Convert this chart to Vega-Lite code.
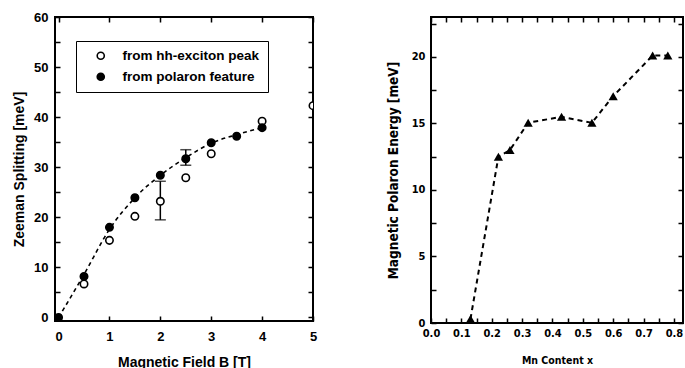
{
  "$schema": "https://vega.github.io/schema/vega-lite/v6.json",
  "padding": {"left": 11, "top": 10, "right": 0, "bottom": 0},
  "spacing": 67,
  "datasets": {
    "circles": [
      {"B": 0.5, "E": 6.7, "series": "from hh-exciton peak"},
      {"B": 1.0, "E": 15.4, "series": "from hh-exciton peak"},
      {"B": 1.5, "E": 20.2, "series": "from hh-exciton peak"},
      {"B": 2.0, "E": 23.2, "series": "from hh-exciton peak"},
      {"B": 2.5, "E": 27.9, "series": "from hh-exciton peak"},
      {"B": 3.0, "E": 32.7, "series": "from hh-exciton peak"},
      {"B": 4.0, "E": 39.2, "series": "from hh-exciton peak"},
      {"B": 5.0, "E": 42.3, "series": "from hh-exciton peak"},
      {"B": 0.0, "E": 0.0, "series": "from polaron feature"},
      {"B": 0.5, "E": 8.2, "series": "from polaron feature"},
      {"B": 1.0, "E": 18.0, "series": "from polaron feature"},
      {"B": 1.5, "E": 23.9, "series": "from polaron feature"},
      {"B": 2.0, "E": 28.4, "series": "from polaron feature"},
      {"B": 2.5, "E": 31.7, "series": "from polaron feature"},
      {"B": 3.0, "E": 34.9, "series": "from polaron feature"},
      {"B": 3.5, "E": 36.2, "series": "from polaron feature"},
      {"B": 4.0, "E": 37.9, "series": "from polaron feature"}
    ],
    "fit": [
      {"B": 0.0, "E": 0.0},
      {"B": 0.5, "E": 8.6},
      {"B": 1.0, "E": 17.6},
      {"B": 1.5, "E": 23.9},
      {"B": 2.0, "E": 28.4},
      {"B": 2.5, "E": 31.9},
      {"B": 3.0, "E": 34.8},
      {"B": 3.5, "E": 36.5},
      {"B": 4.0, "E": 37.9}
    ],
    "errors": [
      {"B": 2.0, "lo": 19.5, "hi": 27.2},
      {"B": 2.5, "lo": 30.4, "hi": 33.5}
    ],
    "polaron": [
      {"x": 0.13, "Ep": 0.3},
      {"x": 0.222, "Ep": 12.5},
      {"x": 0.26, "Ep": 13.0},
      {"x": 0.32, "Ep": 15.05},
      {"x": 0.43, "Ep": 15.5},
      {"x": 0.53, "Ep": 15.05},
      {"x": 0.60, "Ep": 17.05},
      {"x": 0.73, "Ep": 20.1},
      {"x": 0.78, "Ep": 20.1}
    ]
  },
  "hconcat": [
    {
      "width": 258,
      "height": 304,
      "resolve": {"axis": {"x": "independent", "y": "independent"}},
      "layer": [
        {
          "data": {"name": "fit"},
          "mark": {"type": "line", "color": "black", "strokeWidth": 1.6, "strokeDash": [4, 3.5], "interpolate": "monotone"},
          "encoding": {
            "x": {"field": "B", "type": "quantitative", "scale": {"domain": [-0.07, 5], "nice": false, "zero": false},
              "axis": {"orient": "bottom", "title": "Magnetic Field B [T]", "values": [0, 0.5, 1, 1.5, 2, 2.5, 3, 3.5, 4, 4.5, 5],
                "format": "d", "labelExpr": "datum.value % 1 === 0 ? datum.label : ''", "labelFlush": false, "labelOverlap": false,
                "grid": true, "gridDash": [5, 294, 5, 2000],
                "labelFont": "Liberation Sans", "labelFontSize": 13, "titleFont": "Liberation Sans", "titleFontSize": 14,
                "labelPadding": 9, "titlePadding": 12}},
            "y": {"field": "E", "type": "quantitative", "scale": {"domain": [-0.7, 60], "nice": false, "zero": false},
              "axis": {"orient": "left", "title": "Zeeman Splitting [meV]", "values": [0, 5, 10, 15, 20, 25, 30, 35, 40, 45, 50, 55, 60],
                "labelExpr": "datum.value % 10 === 0 ? datum.label : ''", "labelFlush": false, "labelOverlap": false,
                "grid": true, "gridDash": [5, 248, 5, 2000],
                "labelFont": "Liberation Sans", "labelFontSize": 13, "titleFont": "Liberation Sans", "titleFontSize": 14,
                "labelPadding": 7, "titlePadding": 7}}
          }
        },
        {
          "mark": {"type": "tick", "color": "black", "orient": "horizontal", "size": 187, "thickness": 5, "opacity": 1},
          "encoding": {
            "x": {"datum": 2.274, "type": "quantitative", "axis": null},
            "y": {"datum": 44.67, "type": "quantitative", "axis": null}
          }
        },
        {
          "mark": {"type": "tick", "color": "black", "orient": "vertical", "size": 50, "thickness": 4, "opacity": 1},
          "encoding": {
            "x": {"datum": 4.07, "type": "quantitative", "axis": null},
            "y": {"datum": 49.16, "type": "quantitative", "axis": null}
          }
        },
        {
          "data": {"name": "errors"},
          "mark": {"type": "rule", "color": "black", "strokeWidth": 1.5},
          "encoding": {
            "x": {"field": "B", "type": "quantitative", "axis": null},
            "y": {"field": "lo", "type": "quantitative", "axis": null},
            "y2": {"field": "hi"}
          }
        },
        {
          "data": {"name": "errors"},
          "mark": {"type": "tick", "color": "black", "orient": "horizontal", "size": 11, "thickness": 1.5},
          "encoding": {
            "x": {"field": "B", "type": "quantitative", "axis": null},
            "y": {"field": "lo", "type": "quantitative", "axis": null}
          }
        },
        {
          "data": {"name": "errors"},
          "mark": {"type": "tick", "color": "black", "orient": "horizontal", "size": 11, "thickness": 1.5},
          "encoding": {
            "x": {"field": "B", "type": "quantitative", "axis": null},
            "y": {"field": "hi", "type": "quantitative", "axis": null}
          }
        },
        {
          "data": {"name": "circles"},
          "mark": {"type": "point", "shape": "circle", "filled": true, "stroke": "black", "strokeWidth": 1.6, "size": 55, "opacity": 1, "clip": true},
          "encoding": {
            "x": {"field": "B", "type": "quantitative", "axis": null},
            "y": {"field": "E", "type": "quantitative", "axis": null},
            "fill": {"field": "series", "type": "nominal",
              "scale": {"domain": ["from hh-exciton peak", "from polaron feature"], "range": ["white", "black"]},
              "legend": {"orient": "none", "legendX": 21, "legendY": 24, "title": null, "fillColor": "white", "strokeColor": "black",
                "padding": 8, "symbolOffset": 10, "labelOffset": 15, "rowPadding": 6, "symbolType": "circle", "symbolSize": 50,
                "symbolStrokeColor": "black", "symbolStrokeWidth": 1.6, "labelColor": "black",
                "labelFont": "Liberation Sans", "labelFontSize": 13.5, "labelFontWeight": "bold", "zindex": 1}}
          }
        },
        {
          "mark": {"type": "text", "text": "( a )", "font": "Liberation Sans", "fontSize": 15, "fontWeight": "bold", "color": "black"},
          "encoding": {"x": {"datum": 4.37, "type": "quantitative", "axis": null}, "y": {"datum": 22.7, "type": "quantitative", "axis": null}}
        },
        {
          "mark": {"type": "text", "text": "Sample 05164B", "font": "Liberation Sans", "fontSize": 13.5, "fontWeight": "bold", "color": "black"},
          "encoding": {"x": {"datum": 3.67, "type": "quantitative", "axis": null}, "y": {"datum": 5.2, "type": "quantitative", "axis": null}}
        }
      ]
    },
    {
      "width": 252,
      "height": 306,
      "resolve": {"axis": {"x": "independent", "y": "independent"}},
      "layer": [
        {
          "data": {"name": "polaron"},
          "mark": {"type": "line", "color": "black", "strokeWidth": 2, "strokeDash": [5, 4]},
          "encoding": {
            "x": {"field": "x", "type": "quantitative", "scale": {"domain": [0, 0.83], "nice": false, "zero": false},
              "axis": {"orient": "bottom", "title": "Mn Content x",
                "values": [0, 0.05, 0.1, 0.15, 0.2, 0.25, 0.3, 0.35, 0.4, 0.45, 0.5, 0.55, 0.6, 0.65, 0.7, 0.75, 0.8],
                "labelExpr": "round(datum.value * 100) % 10 === 0 ? format(datum.value, '.1f') : ''", "labelFlush": false, "labelOverlap": false,
                "grid": true, "gridDash": [5, 296, 5, 2000],
                "labelFont": "DejaVu Sans Condensed, Liberation Sans", "labelFontSize": 11, "titleFont": "DejaVu Sans Condensed, Liberation Sans", "titleFontSize": 10.5,
                "labelPadding": 4, "titlePadding": 17}},
            "y": {"field": "Ep", "type": "quantitative", "scale": {"domain": [0, 23], "nice": false, "zero": false},
              "axis": {"orient": "left", "title": "Magnetic Polaron Energy [meV]",
                "values": [0, 2.5, 5, 7.5, 10, 12.5, 15, 17.5, 20, 22.5],
                "labelExpr": "datum.value % 5 === 0 ? datum.label : ''", "labelFlush": false, "labelOverlap": false,
                "grid": true, "gridDash": [5, 242, 5, 2000],
                "labelFont": "DejaVu Sans Condensed, Liberation Sans", "labelFontSize": 11, "titleFont": "DejaVu Sans Condensed, Liberation Sans", "titleFontSize": 13.5,
                "labelPadding": 6, "titlePadding": 11}}
          }
        },
        {
          "data": {"name": "polaron"},
          "mark": {"type": "point", "shape": "triangle-up", "filled": true, "color": "black", "size": 85, "opacity": 1},
          "encoding": {
            "x": {"field": "x", "type": "quantitative", "axis": null},
            "y": {"field": "Ep", "type": "quantitative", "axis": null}
          }
        },
        {
          "mark": {"type": "text", "text": "( b )", "font": "Liberation Sans", "fontSize": 15, "fontWeight": "bold", "color": "black"},
          "encoding": {"x": {"datum": 0.72, "type": "quantitative", "axis": null}, "y": {"datum": 9.1, "type": "quantitative", "axis": null}}
        },
        {
          "mark": {"type": "text", "text": "L= 4 ML", "align": "left", "font": "DejaVu Sans Condensed, Liberation Sans", "fontSize": 11, "fontWeight": "bold", "color": "black"},
          "encoding": {"x": {"datum": 0.105, "type": "quantitative", "axis": null}, "y": {"datum": 19.4, "type": "quantitative", "axis": null}}
        },
        {
          "mark": {"type": "text", "text": "z", "align": "left", "dx": 3, "dy": 5, "font": "DejaVu Sans Condensed, Liberation Sans", "fontSize": 8, "fontWeight": "bold", "color": "black"},
          "encoding": {"x": {"datum": 0.105, "type": "quantitative", "axis": null}, "y": {"datum": 19.4, "type": "quantitative", "axis": null}}
        }
      ]
    }
  ],
  "config": {
    "view": {"stroke": "black", "strokeWidth": 2},
    "axis": {"domain": false, "ticks": false, "gridColor": "black", "gridWidth": 1.5, "gridOpacity": 1,
      "labelColor": "black", "titleColor": "black", "labelFontWeight": "bold", "titleFontWeight": "bold"}
  }
}
